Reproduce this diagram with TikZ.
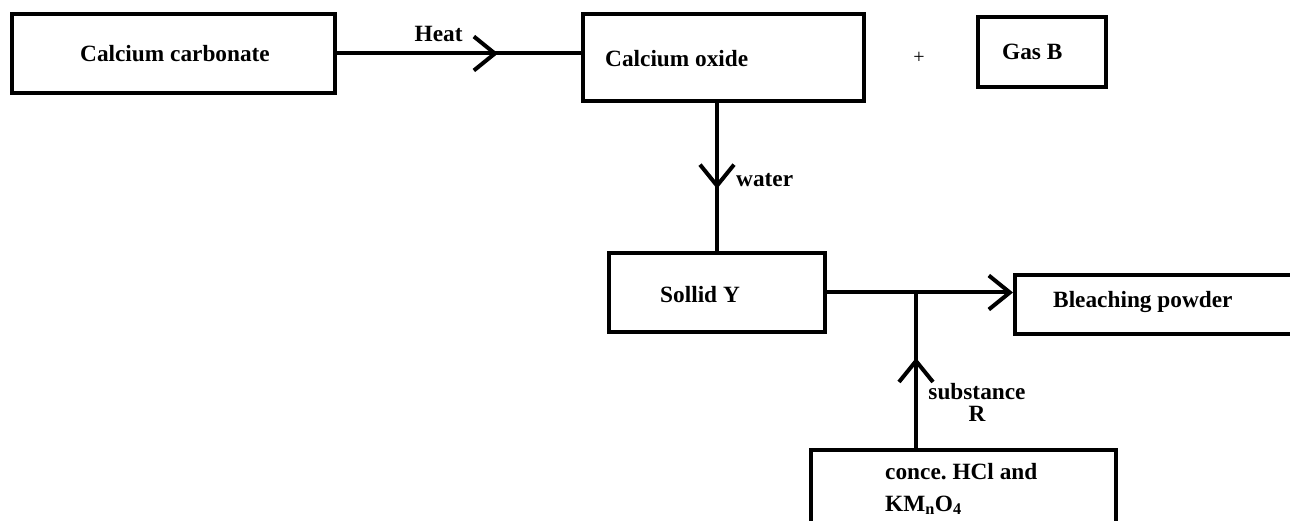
\documentclass[tikz,border=0pt]{standalone}
\usepackage{fontspec}
\setmainfont{Liberation Serif}
\usetikzlibrary{arrows.meta,decorations.markings}
\frenchspacing

\tikzset{
  box/.style={draw, line width=4pt, rectangle, inner sep=0pt},
  flow/.style={line width=4pt},
  label text/.style={anchor=base west, inner sep=0pt, font=\bfseries\fontsize{23.3}{28}\selectfont},
  midarrow/.style={postaction={decorate, decoration={markings,
      mark=at position #1 with {\arrow{Straight Barb[length=21pt, width=34pt, line width=4pt]}}}}}
}

\begin{document}
\begin{tikzpicture}[x=1pt, y=-1pt]
            \useasboundingbox (0,0) rectangle (1290,521);
            \clip (0,0) rectangle (1290,521);

            % Cajas
            \node[box, minimum width=323pt, minimum height=79pt] (carbonate) at (173.5,53.5) {};
            \node[box, minimum width=281pt, minimum height=87pt] (oxide) at (723.5,57.5) {};
            \node[box, minimum width=128pt, minimum height=70pt] (gas) at (1042,52) {};
            \node[box, minimum width=216pt, minimum height=79pt] (solid) at (717,292.5) {};
            \node[box, minimum width=285pt, minimum height=59pt] (bleach) at (1157.5,304.5) {};
            \node[box, minimum width=305pt, minimum height=90pt] (acid) at (963.5,495) {};

            % Textos
            \node[label text] (carbonate text) at (80,62) {Calcium carbonate};
            \node[label text] (oxide text) at (605,67) {Calcium oxide};
            \node[anchor=center, inner sep=0pt, font=\fontsize{20}{24}\selectfont] (plus) at (919,58) {+};
            \node[label text] (gas text) at (1002,60) {Gas B};
            \node[label text] (solid text) at (660,302) {Sollid Y};
            \node[label text] (bleach text) at (1053,307) {Bleaching powder};
            \node[label text, align=left, font=\bfseries\fontsize{23.3}{32}\selectfont] (acid text) at (885,511)
                {conce. HCl and\\KM\textsubscript{n}O\textsubscript{4}};

            % Flechas
            \draw[flow, midarrow=0.66] (carbonate.east) -- (carbonate.east -| oxide.west)
                node[label text, pos=0.31, yshift=12pt] (heat) {Heat};
            \draw[flow, midarrow=0.58] (oxide.south -| solid.north) -- (solid.north);
            \node[label text] (water) at (736,187) {water};

            \coordinate (join) at (916,292.5);
            \draw[flow, -{Straight Barb[length=21pt, width=34pt, line width=4pt]}] (solid.east) -- (solid.east -| bleach.west);
            \draw[flow, midarrow=0.58] (acid.north -| join) -- (join);
            \node[label text, anchor=base, align=center, font=\bfseries\fontsize{23.3}{22}\selectfont] (substance) at (977,421)
                {substance\\R};
\end{tikzpicture}
\end{document}
